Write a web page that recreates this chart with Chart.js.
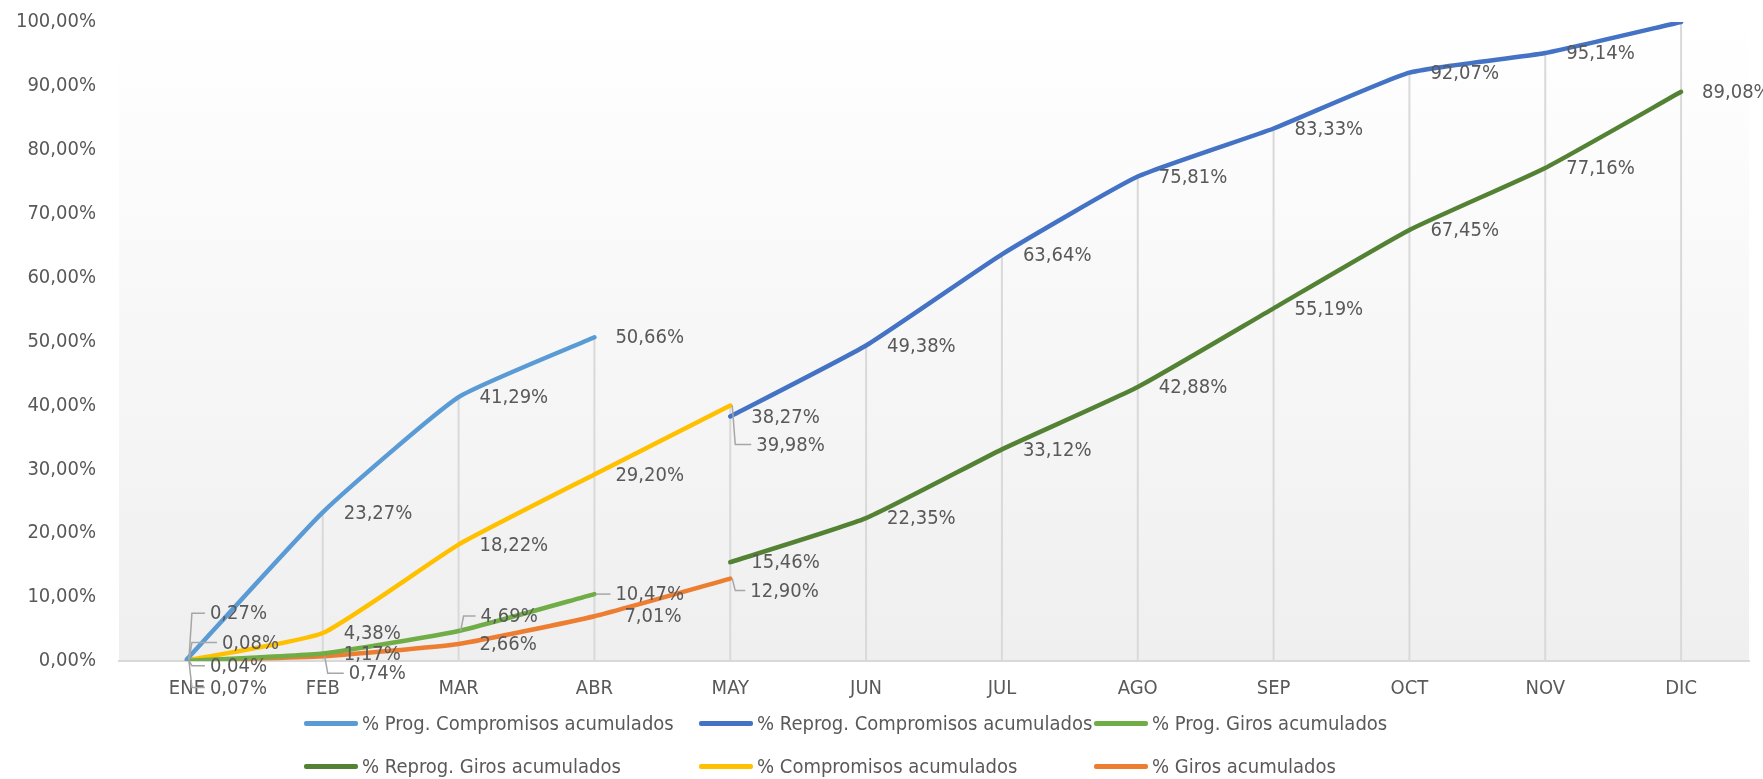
<!DOCTYPE html>
<html lang="es">
<head>
<meta charset="utf-8">
<title>Avance acumulado</title>
<script src="https://cdn.jsdelivr.net/npm/chart.js@4.4.1/dist/chart.umd.min.js"></script>
<style>
  html, body { margin: 0; padding: 0; background: #fff; }
  #wrap { position: relative; width: 1763px; height: 779px; }
  #legend { position: absolute; left: 0; top: 0; width: 100%; height: 100%; pointer-events: none; }
  .item {
    position: absolute; display: flex; align-items: center; white-space: nowrap;
    transform: translateY(-50%);
    font-family: 'DejaVu Sans Condensed', 'Liberation Sans Narrow', 'Liberation Sans', sans-serif;
    font-size: 20px; color: #595959;
  }
  .swatch { width: 54px; height: 5px; border-radius: 2px; margin-right: 4px; }
</style>
</head>
<body>
<div id="wrap">
  <canvas id="chart" width="1763" height="779"></canvas>
  <div id="legend"></div>
</div>
<script>
const months = ['ENE', 'FEB', 'MAR', 'ABR', 'MAY', 'JUN', 'JUL', 'AGO', 'SEP', 'OCT', 'NOV', 'DIC'];

const progCompromisos = [0.27, 23.27, 41.29, 50.66, null, null, null, null, null, null, null, null];
const reprogCompromisos = [null, null, null, null, 38.27, 49.38, 63.64, 75.81, 83.33, 92.07, 95.14, 100.00];
const progGiros = [0.04, 1.17, 4.69, 10.47, null, null, null, null, null, null, null, null];
const reprogGiros = [null, null, null, null, 15.46, 22.35, 33.12, 42.88, 55.19, 67.45, 77.16, 89.08];
const compromisos = [0.08, 4.38, 18.22, 29.20, 39.98, null, null, null, null, null, null, null];
const giros = [0.07, 0.74, 2.66, 7.01, 12.90, null, null, null, null, null, null, null];

const yTicks = [0, 10, 20, 30, 40, 50, 60, 70, 80, 90, 100];

const FONT = "'DejaVu Sans Condensed', 'Liberation Sans Narrow', 'Liberation Sans', sans-serif";
const FONT_SIZE = 20;
const TEXT = '#595959';

const fmt = v => v.toFixed(2).replace('.', ',') + '%';

// labels that were dragged away from the default spot in the original
const labelNudges = {
  '0-0': { dx: 23, dy: -46, leader: true },
  '4-0': { dx: 35, dy: -18, leader: true },
  '2-0': { dx: 23, dy: 5, leader: true },
  '5-0': { dx: 23, dy: 27, leader: true },
  '5-1': { dx: 26, dy: 17, leader: true },
  '2-2': { dx: 22, dy: -15, leader: true },
  '2-3': { dx: 21, dy: 0, leader: true },
  '5-3': { dx: 30, dy: 0 },
  '4-4': { dx: 26, dy: 39, leader: true },
  '5-4': { dx: 20, dy: 12, leader: true }
};
const hiddenLabels = ['1-11'];

const plotBackground = {
  id: 'plotBackground',
  beforeDraw(chart) {
    const { ctx, chartArea: a } = chart;
    const g = ctx.createLinearGradient(0, a.top, 0, a.bottom);
    g.addColorStop(0, '#ffffff');
    g.addColorStop(1, '#efefef');
    ctx.save();
    ctx.fillStyle = g;
    ctx.fillRect(a.left, a.top, a.right - a.left, a.bottom - a.top);
    ctx.restore();
  }
};

const dropLines = {
  id: 'dropLines',
  beforeDatasetsDraw(chart) {
    const { ctx, scales: { x, y } } = chart;
    ctx.save();
    ctx.strokeStyle = '#d9d9d9';
    ctx.lineWidth = 2;
    chart.data.labels.forEach((_, i) => {
      const vals = chart.data.datasets.map(d => d.data[i]).filter(v => v != null);
      if (!vals.length) return;
      const px = x.getPixelForValue(i);
      ctx.beginPath();
      ctx.moveTo(px, y.getPixelForValue(Math.max(...vals)));
      ctx.lineTo(px, y.getPixelForValue(0));
      ctx.stroke();
    });
    ctx.restore();
  }
};

const valueLabels = {
  id: 'valueLabels',
  afterDatasetsDraw(chart) {
    const { ctx } = chart;
    ctx.save();
    ctx.font = FONT_SIZE + 'px ' + FONT;
    ctx.fillStyle = TEXT;
    ctx.textAlign = 'left';
    ctx.textBaseline = 'middle';
    ctx.strokeStyle = '#a6a6a6';
    ctx.lineWidth = 1.5;
    chart.data.datasets.forEach((ds, di) => {
      const meta = chart.getDatasetMeta(di);
      ds.data.forEach((v, i) => {
        const key = di + '-' + i;
        if (v == null || hiddenLabels.includes(key)) return;
        const pt = meta.data[i];
        const n = labelNudges[key] || { dx: 21, dy: 0 };
        const lx = pt.x + n.dx, ly = pt.y + n.dy;
        if (n.leader) {
          ctx.beginPath();
          ctx.moveTo(pt.x + 2, pt.y);
          ctx.lineTo(pt.x + 5, ly);
          ctx.lineTo(lx - 5, ly);
          ctx.stroke();
        }
        ctx.fillText(fmt(v), lx, ly + 1);
      });
    });
    ctx.restore();
  }
};

const lineStyle = color => ({
  borderColor: color,
  backgroundColor: color,
  borderWidth: 4.5,
  pointRadius: 0,
  tension: 0.15,
  borderCapStyle: 'round',
  fill: false
});

const chart = new Chart(document.getElementById('chart'), {
  type: 'line',
  data: {
    labels: months,
    datasets: [
      { label: '% Prog. Compromisos acumulados', data: progCompromisos, ...lineStyle('#5b9bd5') },
      { label: '% Reprog. Compromisos acumulados', data: reprogCompromisos, ...lineStyle('#4472c4') },
      { label: '% Prog. Giros acumulados', data: progGiros, ...lineStyle('#70ad47') },
      { label: '% Reprog. Giros acumulados', data: reprogGiros, ...lineStyle('#548235') },
      { label: '% Compromisos acumulados', data: compromisos, ...lineStyle('#ffc000') },
      { label: '% Giros acumulados', data: giros, ...lineStyle('#ed7d31') }
    ]
  },
  options: {
    responsive: false,
    animation: false,
    layout: { padding: { top: 22, right: 14, left: 0, bottom: 0 } },
    plugins: {
      legend: { display: false },
      tooltip: { enabled: false }
    },
    scales: {
      x: {
        offset: true,
        grid: { display: false, drawTicks: false },
        border: { display: true, color: '#d9d9d9', width: 2 },
        ticks: { color: TEXT, font: { family: FONT, size: FONT_SIZE }, padding: 16 },
        afterFit(s) { s.height = 118; }
      },
      y: {
        min: 0,
        max: 100,
        grid: { display: false, drawTicks: false },
        border: { display: false },
        afterBuildTicks(s) { s.ticks = yTicks.map(v => ({ value: v })); },
        ticks: {
          color: TEXT,
          font: { family: FONT, size: FONT_SIZE },
          padding: 23,
          callback: v => fmt(v)
        },
        afterFit(s) {
          s.width = 119;
          s.paddingTop = 0;
          s.paddingBottom = 0;
        }
      }
    }
  },
  plugins: [plotBackground, dropLines, valueLabels]
});

// legend laid out as a fixed 3-column grid like the original
const legendCols = [304, 699, 1094];
const legendRows = [723, 766];
const legendEl = document.getElementById('legend');
chart.data.datasets.forEach((ds, i) => {
  const item = document.createElement('div');
  item.className = 'item';
  item.style.left = legendCols[i % 3] + 'px';
  item.style.top = legendRows[Math.floor(i / 3)] + 'px';
  const sw = document.createElement('span');
  sw.className = 'swatch';
  sw.style.background = ds.borderColor;
  const txt = document.createElement('span');
  txt.textContent = ds.label;
  item.appendChild(sw);
  item.appendChild(txt);
  legendEl.appendChild(item);
});
</script>
</body>
</html>
